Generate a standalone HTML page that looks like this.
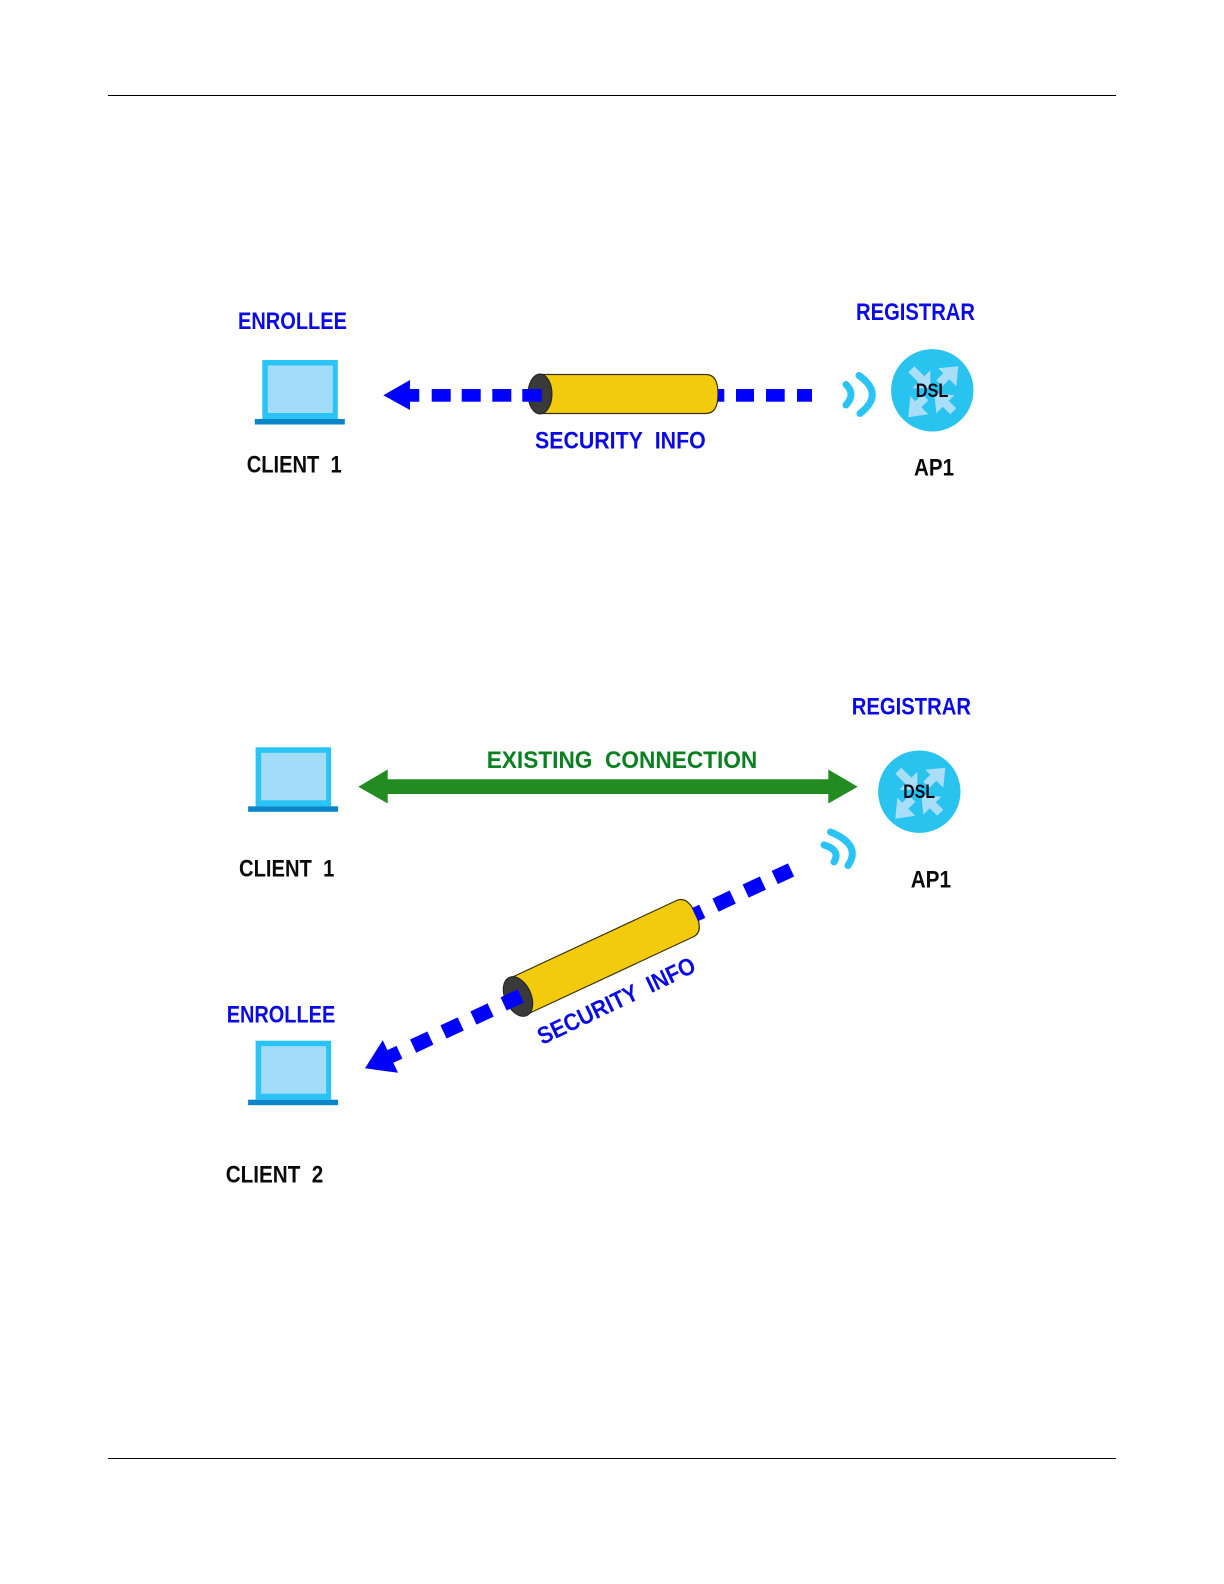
<!DOCTYPE html>
<html>
<head>
<meta charset="utf-8">
<style>
html,body{margin:0;padding:0;background:#fff}
svg{display:block}
text{font-family:"Liberation Sans",sans-serif;font-weight:bold;font-size:24px}
.b{fill:#0a0ae6}
.k{fill:#0a0a0a}
.g{fill:#0a8020}
.d{font-size:19px;fill:#0a0a1a}
</style>
</head>
<body>
<svg width="1224" height="1584" viewBox="0 0 1224 1584" xmlns="http://www.w3.org/2000/svg">
<defs>
<g id="laptop">
<rect x="0" y="0" width="75.5" height="59" fill="#29c3f5"/>
<rect x="5.5" y="5.5" width="65" height="47.5" fill="#a3dcf8"/>
<rect x="-7.5" y="59" width="90" height="5.5" fill="#0a85c8"/>
</g>
<g id="router">
<circle r="41.2" fill="#29c3f0"/>
<g fill="none" stroke="#a9def9" stroke-width="8.5">
<path d="M-21,-21 L-8,-8"/><path d="M7,-7 L20,-20"/><path d="M-7,7 L-20,20"/><path d="M21,21 L8,8"/>
</g>
<g fill="#a9def9">
<path d="M-2,-2 L-2,-20 L-20,-2Z"/>
<path d="M26,-24 L6,-22 L24,-4Z"/>
<path d="M-24,27 L-22,6 L-4,24Z"/>
<path d="M2,3 L22,5 L4,23Z"/>
</g>
</g>
<g id="cyl">
<path d="M0,-19.5 L166,-19.5 Q178,-19.5 178,0 Q178,19.5 166,19.5 L0,19.5Z" fill="#f2cc0c" stroke="#3a3208" stroke-width="1.2"/>
<ellipse rx="12" ry="20" fill="#3a3a3a" stroke="#222" stroke-width="1"/>
</g>
<g id="cyl2">
<path d="M0,-20 L184,-20 Q196,-20 196,0 Q196,20 184,20 L0,20Z" fill="#f2cc0c" stroke="#3a3208" stroke-width="1.2"/>
<ellipse rx="13" ry="21" fill="#3a3a3a" stroke="#222" stroke-width="1"/>
</g>
</defs>

<rect x="108" y="95" width="1008" height="1" fill="#000"/>
<rect x="108" y="1458" width="1008" height="1" fill="#000"/>

<!-- Top diagram -->
<text class="b" x="238" y="329" textLength="109" lengthAdjust="spacingAndGlyphs">ENROLLEE</text>
<text class="b" x="856" y="320" textLength="119" lengthAdjust="spacingAndGlyphs">REGISTRAR</text>
<use href="#laptop" x="262.3" y="360"/>
<use href="#cyl" x="540" y="394"/>
<g fill="#0000ff">
<path d="M383.3,395.3 L410,380 L410,389 L419.3,389 L419.3,401.7 L410,401.7 L410,410Z"/>
<rect x="431.7" y="389" width="19" height="12.7"/>
<rect x="461.7" y="389" width="19" height="12.7"/>
<rect x="492.3" y="389" width="19" height="12.7"/>
<rect x="522.3" y="389" width="19.4" height="12.7"/>
<rect x="718" y="389" width="6.3" height="12.7"/>
<rect x="736" y="389" width="18" height="12.7"/>
<rect x="766" y="389" width="18.7" height="12.7"/>
<rect x="797" y="389" width="15" height="12.7"/>
</g>
<g fill="none" stroke="#29c3f5" stroke-width="7" stroke-linecap="round">
<path d="M846,384.5 Q856,394 846,405"/>
<path d="M859,375.5 Q885,394 860,413.5"/>
</g>
<use href="#router" x="932.3" y="390.3"/>
<text class="d" x="915.7" y="397" textLength="32.6" lengthAdjust="spacingAndGlyphs">DSL</text>
<text class="b" x="535" y="448.3" textLength="170.7" lengthAdjust="spacingAndGlyphs">SECURITY&#160;&#160;INFO</text>
<text class="k" x="246.7" y="472.3" textLength="95" lengthAdjust="spacingAndGlyphs">CLIENT&#160;&#160;1</text>
<text class="k" x="914" y="475.7" textLength="40" lengthAdjust="spacingAndGlyphs">AP1</text>

<!-- Bottom diagram -->
<text class="b" x="851.7" y="714.3" textLength="119.3" lengthAdjust="spacingAndGlyphs">REGISTRAR</text>
<text class="g" x="486.7" y="768" textLength="270.6" lengthAdjust="spacingAndGlyphs">EXISTING&#160;&#160;CONNECTION</text>
<use href="#laptop" x="255.6" y="747.3"/>
<path d="M358.3,786.7 L387.7,769.5 L387.7,779.3 L828.3,779.3 L828.3,769.5 L857.7,786.7 L828.3,803.5 L828.3,794 L387.7,794 L387.7,803.5Z" fill="#228b22"/>
<use href="#router" x="919.3" y="791.7"/>
<text class="d" x="903.3" y="798" textLength="31.7" lengthAdjust="spacingAndGlyphs">DSL</text>
<text class="k" x="239" y="876.7" textLength="95.3" lengthAdjust="spacingAndGlyphs">CLIENT&#160;&#160;1</text>
<text class="k" x="910.7" y="887.3" textLength="40.3" lengthAdjust="spacingAndGlyphs">AP1</text>
<g fill="none" stroke="#29c3f5" stroke-width="7" stroke-linecap="round">
<path d="M824,845 Q841,850 834,862"/>
<path d="M830.5,832 Q862,845 848,865.5"/>
</g>
<g transform="translate(518,996.5) rotate(-25)"><use href="#cyl2"/></g>
<g transform="translate(365,1068.3) rotate(-25)" fill="#0000ff">
<path d="M0,0 L28,-18 L28,-7 L38,-7 L38,7 L28,7 L28,18Z"/>
<rect x="53" y="-7" width="19" height="14.5"/>
<rect x="86.5" y="-7" width="19" height="14.5"/>
<rect x="119.5" y="-7" width="19" height="14.5"/>
<rect x="152.8" y="-7" width="19" height="14.5"/>
<rect x="364" y="-7" width="8" height="14.5"/>
<rect x="386.6" y="-7" width="19" height="14.5"/>
<rect x="419.9" y="-7" width="19" height="14.5"/>
<rect x="452" y="-7" width="18" height="14.5"/>
</g>
<g transform="translate(616,1000) rotate(-25.5)">
<text class="b" x="-86" y="9" textLength="172" lengthAdjust="spacingAndGlyphs">SECURITY&#160;&#160;INFO</text>
</g>
<text class="b" x="226.7" y="1022.7" textLength="108.6" lengthAdjust="spacingAndGlyphs">ENROLLEE</text>
<use href="#laptop" x="255.6" y="1040.7"/>
<text class="k" x="225.7" y="1182.3" textLength="97.6" lengthAdjust="spacingAndGlyphs">CLIENT&#160;&#160;2</text>
</svg>
</body>
</html>
